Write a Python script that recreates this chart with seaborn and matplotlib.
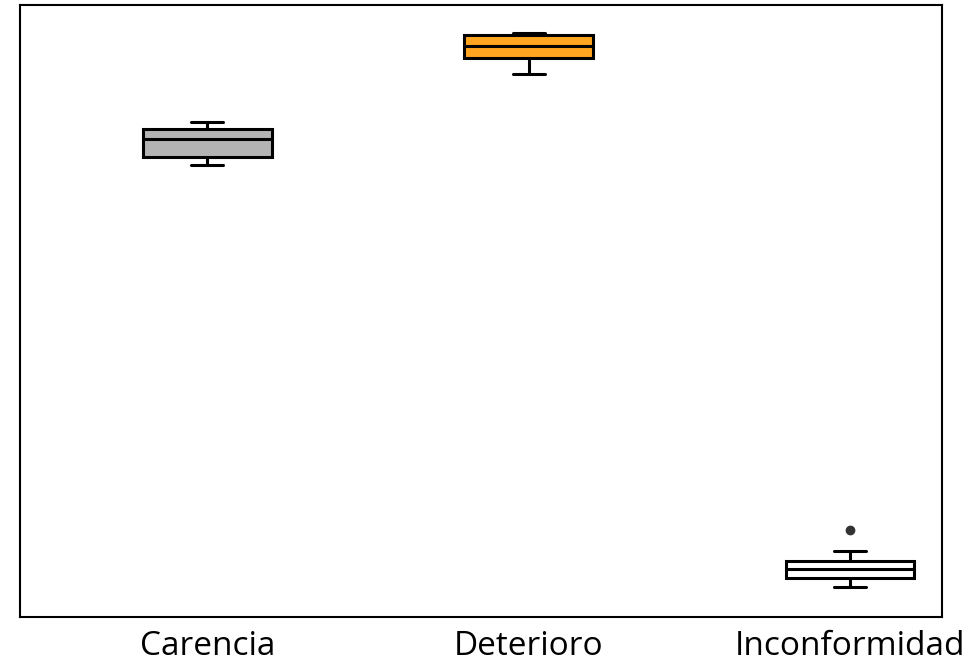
import pandas as pd
import numpy as np
import matplotlib.pyplot as plt
import seaborn as sns

sns.set_style('white')
plt.rcParams['font.family'] = ['Open Sans', 'DejaVu Sans']

# raw readings per group (arbitrary units)
carencia = [73.9, 75.2, 78.1, 79.7, 80.9]
deterioro = [88.7, 91.3, 93.3, 95.1, 95.3]
inconformidad = [4.9, 5.8, 6.4, 7.2, 7.8, 8.6, 9.2, 10.8, 14.2]

categories = ['Carencia', 'Deterioro', 'Inconformidad']
colors = ['#b3b3b3', '#ffa51f', '#ffffff']

df = pd.DataFrame({
    'grupo': ['Carencia'] * len(carencia) + ['Deterioro'] * len(deterioro)
             + ['Inconformidad'] * len(inconformidad),
    'valor': carencia + deterioro + inconformidad,
})

fig, ax = plt.subplots(figsize=(9.72, 6.68), dpi=100)
sns.boxplot(data=df, x='grupo', y='valor', hue='grupo', order=categories,
            palette=dict(zip(categories, colors)), legend=False, width=0.4,
            linewidth=2.2, linecolor='black', saturation=1, ax=ax,
            capwidths=0.1,
            flierprops=dict(marker='o', markerfacecolor='#333333',
                            markeredgecolor='#333333', markersize=6))

ax.set_ylim(0, 100)
ax.set_xlim(-0.582, 2.286)
ax.set_xlabel('')
ax.set_ylabel('')
ax.set_yticks([])
ax.tick_params(axis='x', length=5, width=1.2, labelsize=24, color='black',
               labelcolor='black', pad=4)
for s in ax.spines.values():
    s.set_color('black')
    s.set_linewidth(1.5)

plt.subplots_adjust(left=0.021, right=0.969, top=0.993, bottom=0.076)
plt.savefig('out.png', dpi=100)
plt.close()
